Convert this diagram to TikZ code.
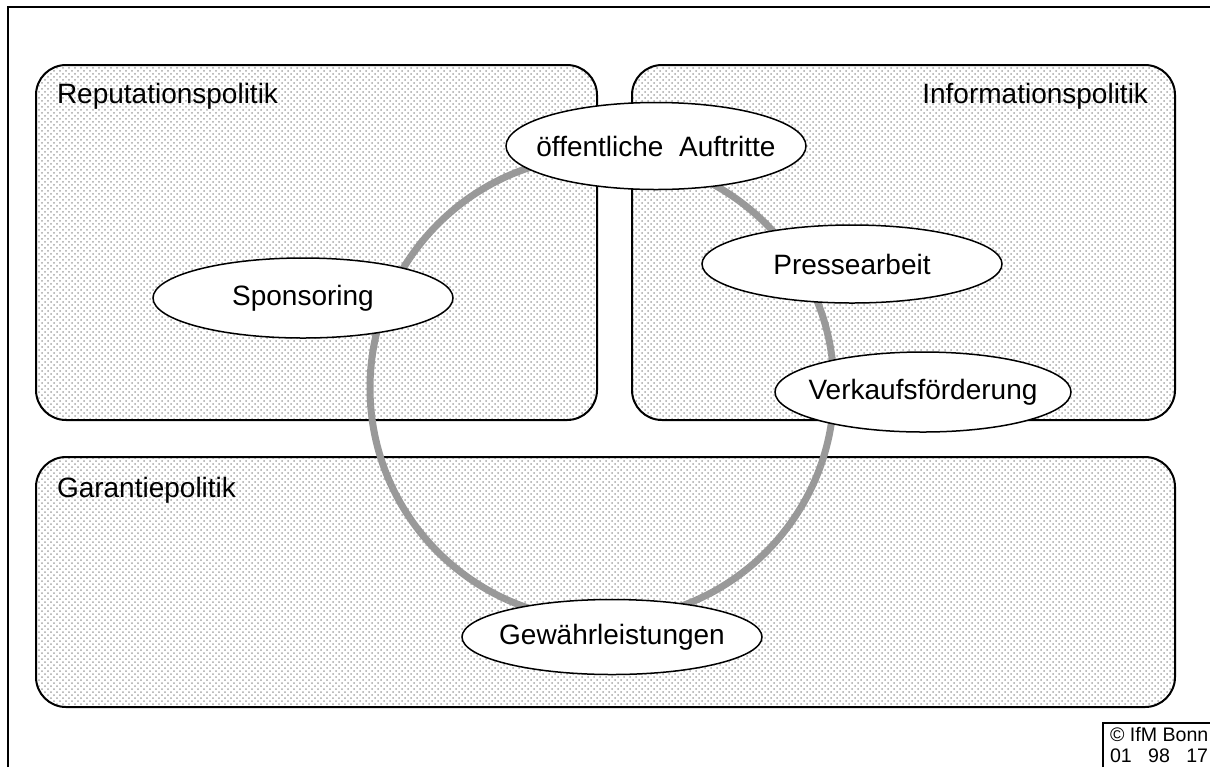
\documentclass[tikz,border=0pt]{standalone}
\usepackage{fontspec}
\setmainfont{Liberation Sans}
\usetikzlibrary{shapes.geometric}
\usetikzlibrary{patterns}
\usetikzlibrary{positioning}

\begin{document}
\begin{tikzpicture}
[
x=0.5pt, y=-0.5pt,
% Schrift und Abstaende
every node/.style={inner sep=0, outer sep=0, font=\fontsize{14}{16}\selectfont},
% Bereiche (gepunktet)
bereich/.style={rectangle, draw, line width=1pt, rounded corners=15pt,
pattern=crosshatch dots, pattern color=black!35},
% Titel der Bereiche
titel/.style={anchor=west},
% Instrumente
instrument/.style={ellipse, draw, fill=white, line width=0.75pt,
minimum width=150pt, minimum height=39pt, label={center:#1}},
% Kreis
kreis/.style={draw=black!40, line width=3.5pt}
]
\useasboundingbox (0,0) rectangle (1210,767);

% Rahmen
\coordinate (rahmenunten) at (8,767);
\coordinate (rahmenrechts) at (1210,7);
\draw [line width=1pt] (rahmenunten) |- (rahmenrechts);

% Bereiche
\node [bereich, minimum width=280.5pt, minimum height=177.5pt] (rep) at (316.5,242.5) {};
\node [bereich, minimum width=271.5pt, minimum height=177.5pt] (info) at (903.5,242.5) {};
\node [bereich, minimum width=569.5pt, minimum height=125pt] (gar) at (605.5,582) {};
\node [titel] (reptitel) at (57,96) {Reputationspolitik};
\node [anchor=east] (infotitel) at (1148,96) {Informationspolitik};
\node [titel] (gartitel) at (57,490) {Garantiepolitik};

% Kreis
\coordinate (mitte) at (602,388);
\draw [kreis] (mitte) circle (232);

% Instrumente
\node [instrument={öffentliche\ \ Auftritte}, minimum height=43.5pt] (auftritte) at (656,146) {};
\node [instrument=Sponsoring, minimum height=40pt] (sponsoring) at (303,298) {};
\node [instrument=Pressearbeit] (presse) at (852,264) {};
\node [instrument=Verkaufsförderung, minimum width=148pt, minimum height=40pt] (verkauf) at (923,392) {};
\node [instrument=Gewährleistungen, minimum height=37.5pt] (gewaehr) at (612,637) {};

% Copyright
\node [anchor=north west, align=left, font=\fontsize{9.8}{10.5}\selectfont] (copy) at (1110,727)
{© IfM Bonn\\01\ \ \ 98\ \ \ 17};
\coordinate (copyunten) at (1103,767);
\coordinate (copyrechts) at (1210,723);
\draw [line width=0.75pt] (copyunten) |- (copyrechts);
\end{tikzpicture}
\end{document}
